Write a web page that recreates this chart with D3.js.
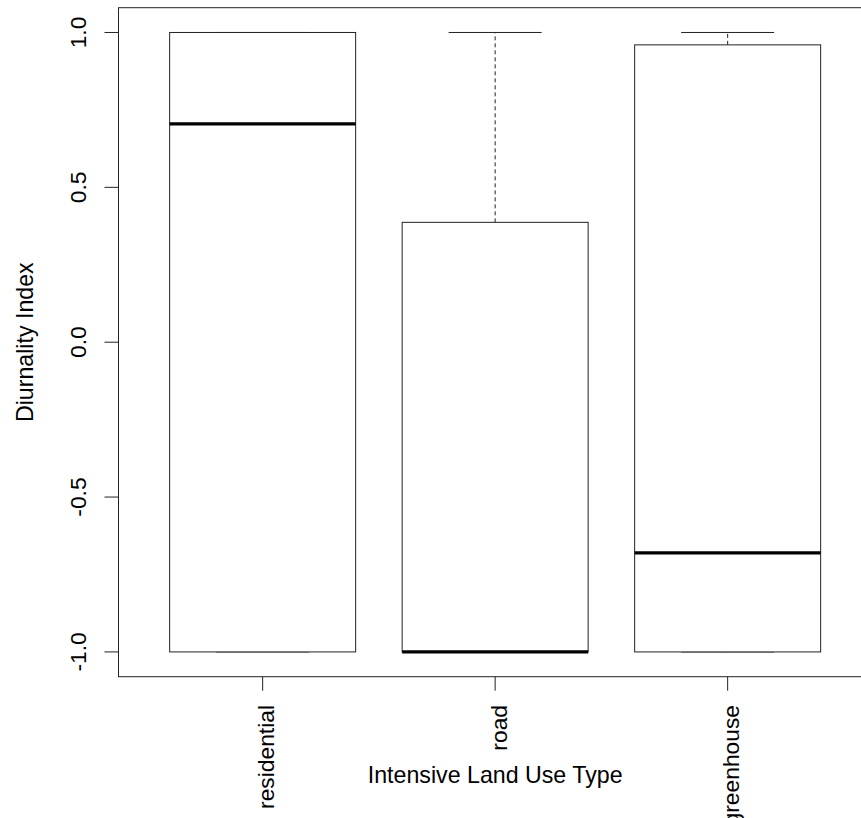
<!DOCTYPE html>
<html>
<head>
<meta charset="utf-8">
<script src="https://cdn.jsdelivr.net/npm/d3@7"></script>
<style>
  html, body { margin: 0; padding: 0; background: #fff; overflow: hidden; }
  svg { display: block; }
  text { font-family: "Liberation Sans", Arial, sans-serif; fill: #000; }
</style>
</head>
<body>
<svg id="chart" width="861" height="818"></svg>
<script>
// Box-and-whisker summaries of the diurnality index per land use type
const categories   = ["residential", "road", "greenhouse"];
const whiskerLow   = [-1.0, -1.0, -1.0];
const lowerQuart   = [-1.0, -1.0, -1.0];
const medians      = [0.705, -1.0, -0.68];
const upperQuart   = [1.0, 0.387, 0.96];
const whiskerHigh  = [1.0, 1.0, 1.0];
const yTicks       = [-1.0, -0.5, 0.0, 0.5, 1.0];
const yTickLabels  = ["-1.0", "-0.5", "0.0", "0.5", "1.0"];
const xTitle = "Intensive Land Use Type";
const yTitle = "Diurnality Index";

const svg = d3.select("#chart");

// Plot region (right edge runs past the window)
const plot = { left: 118.5, top: 7.7, right: 871.8, bottom: 676.7 };

// Categories sit at 1..n; the range is padded by 4% as in base graphics
const n = categories.length;
const xPad = n * 0.04;
const x = d3.scaleLinear()
  .domain([0.5 - xPad, n + 0.5 + xPad])
  .range([plot.left, plot.right]);
const yPad = (1 - (-1)) * 0.04;
const y = d3.scaleLinear()
  .domain([-1 - yPad, 1 + yPad])
  .range([plot.bottom, plot.top]);

const boxHalf = 0.4;   // box half width in category units
const capHalf = 0.2;   // whisker cap half width

const stroke = "#222";

const data = categories.map((c, i) => ({
  name: c, pos: i + 1,
  lo: whiskerLow[i], q1: lowerQuart[i], med: medians[i],
  q3: upperQuart[i], hi: whiskerHigh[i]
}));

const g = svg.append("g");

const boxes = g.selectAll("g.box").data(data).join("g").attr("class", "box");

// whiskers (dashed)
boxes.append("line")
  .attr("x1", d => x(d.pos)).attr("x2", d => x(d.pos))
  .attr("y1", d => y(d.q3)).attr("y2", d => y(d.hi))
  .attr("stroke", stroke).attr("stroke-width", 1)
  .attr("stroke-dasharray", "4,3");
boxes.append("line")
  .attr("x1", d => x(d.pos)).attr("x2", d => x(d.pos))
  .attr("y1", d => y(d.lo)).attr("y2", d => y(d.q1))
  .attr("stroke", stroke).attr("stroke-width", 1)
  .attr("stroke-dasharray", "4,3");

// whisker caps
boxes.append("line")
  .attr("x1", d => x(d.pos - capHalf)).attr("x2", d => x(d.pos + capHalf))
  .attr("y1", d => y(d.hi)).attr("y2", d => y(d.hi))
  .attr("stroke", stroke).attr("stroke-width", 1);
boxes.append("line")
  .attr("x1", d => x(d.pos - capHalf)).attr("x2", d => x(d.pos + capHalf))
  .attr("y1", d => y(d.lo)).attr("y2", d => y(d.lo))
  .attr("stroke", stroke).attr("stroke-width", 1);

// boxes
boxes.append("rect")
  .attr("x", d => x(d.pos - boxHalf))
  .attr("width", d => x(d.pos + boxHalf) - x(d.pos - boxHalf))
  .attr("y", d => y(d.q3))
  .attr("height", d => y(d.q1) - y(d.q3))
  .attr("fill", "#fff")
  .attr("stroke", stroke).attr("stroke-width", 1);

// medians
boxes.append("line")
  .attr("x1", d => x(d.pos - boxHalf)).attr("x2", d => x(d.pos + boxHalf))
  .attr("y1", d => y(d.med)).attr("y2", d => y(d.med))
  .attr("stroke", "#000").attr("stroke-width", 3.2);

// plot frame
svg.append("rect")
  .attr("x", plot.left).attr("y", plot.top)
  .attr("width", plot.right - plot.left)
  .attr("height", plot.bottom - plot.top)
  .attr("fill", "none").attr("stroke", stroke).attr("stroke-width", 1);

// y axis ticks and labels (labels parallel to the axis)
const tickFont = "22.8px";
const titleFont = "23.2px";
const yAxis = svg.append("g");
yAxis.selectAll("line").data(yTicks).join("line")
  .attr("x1", plot.left - 14).attr("x2", plot.left)
  .attr("y1", d => y(d)).attr("y2", d => y(d))
  .attr("stroke", stroke).attr("stroke-width", 1);
yAxis.selectAll("text").data(yTicks).join("text")
  .attr("transform", d => `translate(86,${y(d)}) rotate(-90)`)
  .attr("text-anchor", "middle")
  .style("font-size", tickFont)
  .text((d, i) => yTickLabels[i]);

// x axis ticks and rotated category labels
const xAxis = svg.append("g");
xAxis.selectAll("line").data(data).join("line")
  .attr("x1", d => x(d.pos)).attr("x2", d => x(d.pos))
  .attr("y1", plot.bottom).attr("y2", plot.bottom + 14)
  .attr("stroke", stroke).attr("stroke-width", 1);
xAxis.selectAll("text").data(data).join("text")
  .attr("transform", d => `translate(${x(d.pos) + 11.5},705) rotate(-90)`)
  .attr("text-anchor", "end")
  .style("font-size", tickFont)
  .text(d => d.name);

// axis titles
svg.append("text")
  .attr("x", (plot.left + plot.right) / 2)
  .attr("y", 783)
  .attr("text-anchor", "middle")
  .style("font-size", titleFont)
  .text(xTitle);
svg.append("text")
  .attr("transform", `translate(33,${(plot.top + plot.bottom) / 2}) rotate(-90)`)
  .attr("text-anchor", "middle")
  .style("font-size", titleFont)
  .text(yTitle);
</script>
</body>
</html>
